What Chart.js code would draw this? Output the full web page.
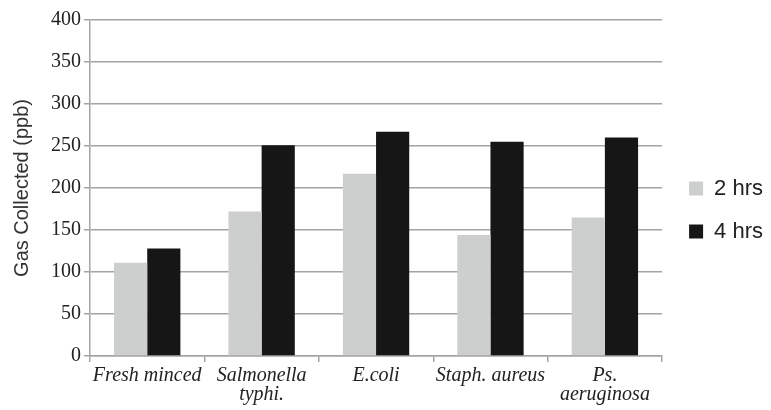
<!DOCTYPE html>
<html>
<head>
<meta charset="utf-8">
<script src="https://cdn.jsdelivr.net/npm/chart.js@4/dist/chart.umd.min.js"></script>
<style>
  html, body { margin: 0; padding: 0; background: #fff; }
  #wrap { width: 771px; height: 410px; }
</style>
</head>
<body>
<div id="wrap"><canvas id="gas-chart"></canvas></div>
<script>
// categories and values
const samples = ['Fresh minced', ['Salmonella', 'typhi.'], 'E.coli', 'Staph. aureus', ['Ps.', 'aeruginosa']];
const twoHrs = [111, 172, 217, 144, 165];
const fourHrs = [128, 251, 267, 255, 260];
const yTicks = [0, 50, 100, 150, 200, 250, 300, 350, 400];

const gridGrey = '#a4a4a4';
const serif = "'Liberation Serif', 'Times New Roman', serif";
const sans = "'Liberation Sans', Arial, sans-serif";

// nudge the legend a little right and up, like the original figure
const legendNudge = {
  id: 'legendNudge',
  afterLayout(chart) {
    const lg = chart.legend;
    if (!lg) return;
    lg.left += 6; lg.right += 6;
    lg.top -= 5; lg.bottom -= 5;
  }
};

new Chart(document.getElementById('gas-chart'), {
  type: 'bar',
  data: {
    labels: samples,
    datasets: [
      { label: '2 hrs', data: twoHrs, backgroundColor: '#cdcfce' },
      { label: '4 hrs', data: fourHrs, backgroundColor: '#161616' }
    ]
  },
  plugins: [legendNudge],
  options: {
    responsive: true,
    maintainAspectRatio: false,
    animation: false,
    events: [],
    layout: { padding: { top: 20, right: 4, left: 0, bottom: 0 } },
    datasets: { bar: { categoryPercentage: 0.58, barPercentage: 1.0 } },
    plugins: {
      tooltip: { enabled: false },
      legend: {
        position: 'right',
        labels: {
          boxWidth: 14,
          boxHeight: 14,
          padding: 21,
          color: '#222',
          font: { family: sans, size: 22 }
        }
      }
    },
    scales: {
      x: {
        offset: true,
        grid: { drawOnChartArea: false, offset: true, color: gridGrey, lineWidth: 1.5, tickLength: 6 },
        border: { color: gridGrey, width: 1.5 },
        ticks: {
          color: '#222',
          maxRotation: 0,
          autoSkip: false,
          padding: 4,
          font: { family: serif, style: 'italic', size: 20, lineHeight: 0.95 }
        },
        afterFit: scale => { scale.height = 54; }
      },
      y: {
        min: 0,
        max: 400,
        afterBuildTicks: scale => { scale.ticks = yTicks.map(v => ({ value: v })); },
        grid: { color: gridGrey, lineWidth: 1.5, tickLength: 6 },
        border: { color: gridGrey, width: 1.5 },
        ticks: {
          color: '#222',
          padding: 3,
          font: { family: serif, size: 20 }
        },
        title: {
          display: true,
          text: 'Gas Collected (ppb)',
          color: '#333',
          padding: { top: 10, bottom: 6 },
          font: { family: sans, size: 20 }
        },
        afterFit: scale => { scale.width = 90; }
      }
    }
  }
});
</script>
</body>
</html>
